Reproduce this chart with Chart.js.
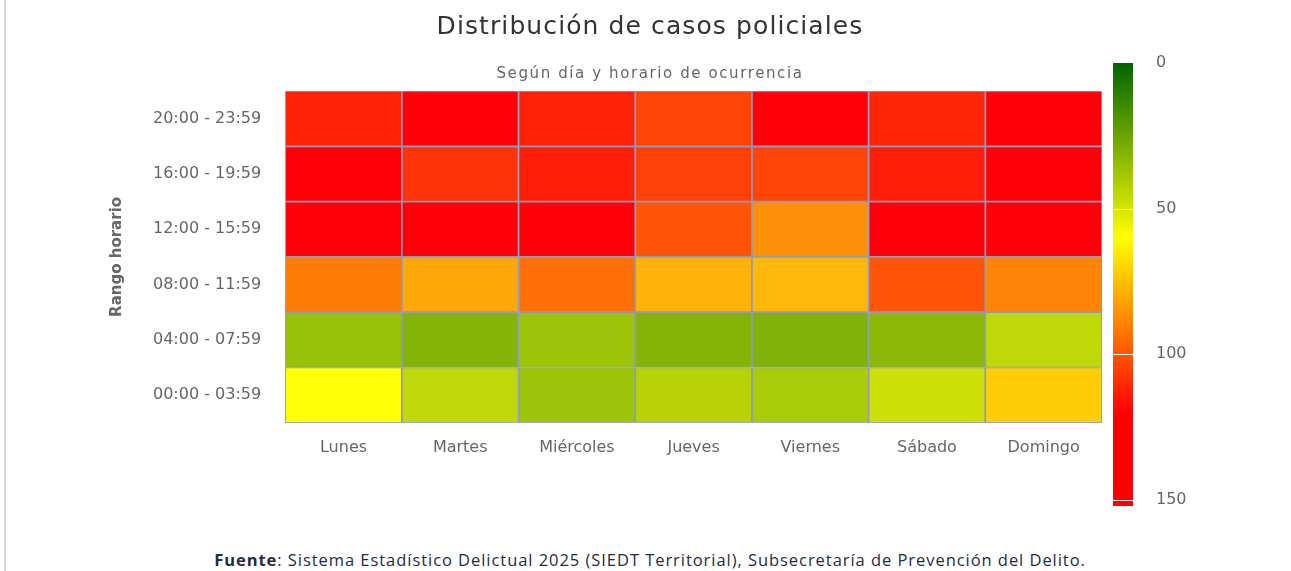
<!DOCTYPE html>
<html lang="es">
<head>
<meta charset="utf-8">
<title>Distribución de casos policiales</title>
<script src="https://cdn.jsdelivr.net/npm/chart.js@4/dist/chart.umd.min.js"></script>
<style>
  html, body { margin: 0; padding: 0; background: #fff; }
  #wrap { position: relative; width: 1291px; height: 571px; }
  #linea { position: absolute; left: 4px; top: 0; width: 2px; height: 571px; background: #d9d9d9; }
  #chartBox { position: absolute; left: 0; top: 0; width: 1291px; height: 535px; }
  .txt { position: absolute; left: 0; width: 1300px; text-align: center; white-space: nowrap; }
  #titulo { top: 11px; font-family: "DejaVu Sans", sans-serif; font-size: 25px; color: #333; letter-spacing: 1.1px; }
  #subtitulo { top: 64px; font-family: "DejaVu Sans", sans-serif; font-size: 15px; color: #666; letter-spacing: 1.6px; }
  #fuente {
    top: 548px; width: 1300px;
    font-family: "Open Sans", sans-serif; font-size: 16.5px; color: #1f2b47; letter-spacing: 0.95px;
  }
</style>
</head>
<body>
<div id="wrap">
  <div id="linea"></div>
  <div id="chartBox"><canvas id="heatChart"></canvas></div>
  <div class="txt" id="titulo">Distribución de casos policiales</div>
  <div class="txt" id="subtitulo">Según día y horario de ocurrencia</div>
  <div class="txt" id="fuente"><b>Fuente</b>: Sistema Estadístico Delictual 2025 (SIEDT Territorial), Subsecretaría de Prevención del Delito.</div>
</div>
<script>
// Categorías
const dias = ["Lunes", "Martes", "Miércoles", "Jueves", "Viernes", "Sábado", "Domingo"];
const rangos = ["00:00 - 03:59", "04:00 - 07:59", "08:00 - 11:59", "12:00 - 15:59", "16:00 - 19:59", "20:00 - 23:59"];

const casos0000 = [60, 45, 37, 43, 40, 48, 72];
const casos0400 = [36, 31, 37, 31, 30, 33, 45];
const casos0800 = [91, 81, 94, 78, 77, 100, 89];
const casos1200 = [145, 130, 127, 100, 86, 132, 138];
const casos1600 = [140, 108, 113, 105, 104, 113, 125];
const casos2000 = [112, 130, 112, 104, 135, 111, 128];
const filas = [casos0000, casos0400, casos0800, casos1200, casos1600, casos2000];

// Escala de color
const escalaMin = 0;
const escalaMax = 150;
const escalaTicks = [0, 50, 100, 150];
const escalaStops = [
  [0, [0, 100, 0]],
  [0.4, [255, 255, 0]],
  [0.8, [255, 0, 0]],
  [1, [255, 0, 0]]
];

function colorDe(valor) {
  const t = Math.min(1, Math.max(0, (valor - escalaMin) / (escalaMax - escalaMin)));
  for (let i = 1; i < escalaStops.length; i++) {
    const [p1, c1] = escalaStops[i];
    const [p0, c0] = escalaStops[i - 1];
    if (t <= p1) {
      const f = (t - p0) / (p1 - p0 || 1);
      const c = c0.map((v, k) => Math.round(v + (c1[k] - v) * f));
      return `rgb(${c[0]},${c[1]},${c[2] + 8})`;
    }
  }
  return "rgb(255,0,0)";
}

// Leyenda de color (barra vertical a la derecha)
const leyendaColor = {
  id: "leyendaColor",
  afterDraw(chart) {
    const ctx = chart.ctx;
    const x = 1113, w = 20, top = 63, bottom = 500, extra = 6;
    const yDe = v => top + (v - escalaMin) / (escalaMax - escalaMin) * (bottom - top);
    const grad = ctx.createLinearGradient(0, top, 0, bottom);
    escalaStops.forEach(([p, c]) => grad.addColorStop(p, `rgb(${c[0]},${c[1]},${c[2]})`));
    ctx.save();
    ctx.fillStyle = grad;
    ctx.fillRect(x, top, w, bottom - top);
    ctx.fillStyle = "rgb(255,0,0)";
    ctx.fillRect(x, bottom, w, extra);
    ctx.strokeStyle = "#ffffff";
    ctx.lineWidth = 1;
    escalaTicks.slice(1).forEach(v => {
      const y = Math.round(yDe(v)) + 0.5;
      ctx.beginPath();
      ctx.moveTo(x, y);
      ctx.lineTo(x + w, y);
      ctx.stroke();
    });
    ctx.fillStyle = "#666666";
    ctx.font = "16px 'DejaVu Sans', sans-serif";
    ctx.textAlign = "left";
    ctx.textBaseline = "middle";
    escalaTicks.forEach(v => ctx.fillText(String(v), 1156, yDe(v)));
    ctx.restore();
  }
};

const datasets = filas.map((fila, i) => ({
  label: rangos[i],
  data: fila.map(() => [i, i + 1]),
  casos: fila,
  backgroundColor: fila.map(colorDe),
  borderColor: "#8e9ac0",
  borderWidth: 1.2,
  borderSkipped: false,
  barPercentage: 1,
  categoryPercentage: 1,
  grouped: false
}));

new Chart(document.getElementById("heatChart"), {
  type: "bar",
  data: { labels: dias, datasets },
  options: {
    responsive: true,
    maintainAspectRatio: false,
    animation: false,
    layout: { padding: { left: 108, right: 189, top: 91, bottom: 63 } },
    plugins: {
      legend: { display: false },
      tooltip: { enabled: false }
    },
    scales: {
      x: {
        type: "category",
        grid: { display: false, drawTicks: false },
        border: { color: "#d0d0d0" },
        ticks: {
          color: "#666666",
          padding: 15,
          font: { family: "'DejaVu Sans', sans-serif", size: 16 }
        }
      },
      y: {
        type: "linear",
        min: 0,
        max: rangos.length,
        afterBuildTicks: axis => {
          axis.ticks = rangos.map((r, i) => ({ value: i + 0.5 }));
        },
        grid: { display: false, drawTicks: false },
        border: { color: "#d0d0d0" },
        ticks: {
          color: "#666666",
          padding: 24,
          autoSkip: false,
          font: { family: "'DejaVu Sans', sans-serif", size: 16 },
          callback: v => rangos[Math.floor(v)]
        },
        title: {
          display: true,
          text: "Rango horario",
          color: "#666666",
          font: { family: "'DejaVu Sans', sans-serif", size: 15, weight: "bold" },
          padding: { top: 0, bottom: 3 }
        }
      }
    }
  },
  plugins: [leyendaColor]
});
</script>
</body>
</html>
